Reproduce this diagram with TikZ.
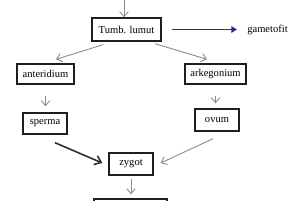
\documentclass[tikz,border=0pt]{standalone}
\usepackage{fontspec}
\setmainfont{Liberation Serif}
\usetikzlibrary{positioning, arrows.meta, calc}
\definecolor{cBox}{HTML}{1E1E1E}
\definecolor{cFlow}{HTML}{8A8A8A}
\definecolor{cFuse}{HTML}{2E2E2E}
\definecolor{cGamet}{HTML}{2B2B8C}

\begin{document}
\begin{tikzpicture}[
  font=\fontsize{6}{7}\selectfont,
  stage/.style={draw=cBox, line width=0.8pt, fill=white, inner sep=0pt,
                minimum height=4.2mm, align=center},
  flowarr/.style={-{Straight Barb[length=1mm, width=1.7mm]}, draw=cFlow, line width=0.5pt},
  fusearr/.style={-{Straight Barb[length=1.2mm, width=1.9mm]}, draw=cFuse, line width=0.9pt},
  gamarr/.style={-{Triangle[length=1.1mm, width=1.3mm]}, draw=cGamet, fill=cGamet, line width=0.6pt},
  tag/.style={inner sep=0pt},
]

\clip (0,0) rectangle (6,4);

% ---- main stages -------------------------------------------------------
\coordinate (top) at (2.48,4.0);
\node[stage, minimum width=13.8mm, minimum height=4.6mm] (lumut) at (2.53,3.41) {Tumb. lumut};
\node[tag] (gametofit) at (5.35,3.41) {gametofit};

\node[stage, minimum width=11.4mm, minimum height=4mm] (anteridium) at (0.91,2.52) {anteridium};
\node[stage, minimum width=12.2mm, minimum height=4mm] (arkegonium) at (4.31,2.52) {arkegonium};

\node[stage, minimum width=8.8mm] (sperma) at (0.9,1.53) {sperma};
\node[stage, minimum width=8.8mm, minimum height=4.4mm] (ovum) at (4.34,1.6) {ovum};

\node[stage, minimum width=8.8mm, minimum height=4.4mm] (zygot) at (2.62,0.72) {zygot};
\node[stage, minimum width=14.6mm, minimum height=4.4mm] (sporofit) at (2.61,-0.2) {};

% ---- connectors --------------------------------------------------------
\draw[flowarr] (top) -- (top |- lumut.north);
\draw[gamarr, shorten <=2mm, shorten >=2mm] (lumut.east) -- (gametofit.west);

\draw[flowarr] ($(lumut.south)+(-0.47,-0.06)$) -- ($(anteridium.north)+(0.21,0.08)$);
\draw[flowarr] ($(lumut.south)+(0.57,-0.04)$) -- ($(arkegonium.north)+(-0.17,0.08)$);

\draw[flowarr, shorten <=2.2mm, shorten >=1.2mm] (anteridium.south) -- (anteridium.south |- sperma.north);
\draw[flowarr, shorten <=2.2mm, shorten >=1mm] (arkegonium.south) -- (arkegonium.south |- ovum.north);

% fertilisation
\draw[fusearr] ($(sperma.south)+(0.2,-0.16)$) -- ($(zygot.west)+(-0.12,0.02)$);
\draw[flowarr] ($(ovum.south)+(-0.08,-0.14)$) -- ($(zygot.east)+(0.14,0.02)$);

\draw[flowarr, shorten <=0.6mm, shorten >=0.8mm] (zygot.south) -- (zygot.south |- sporofit.north);

\end{tikzpicture}
\end{document}
